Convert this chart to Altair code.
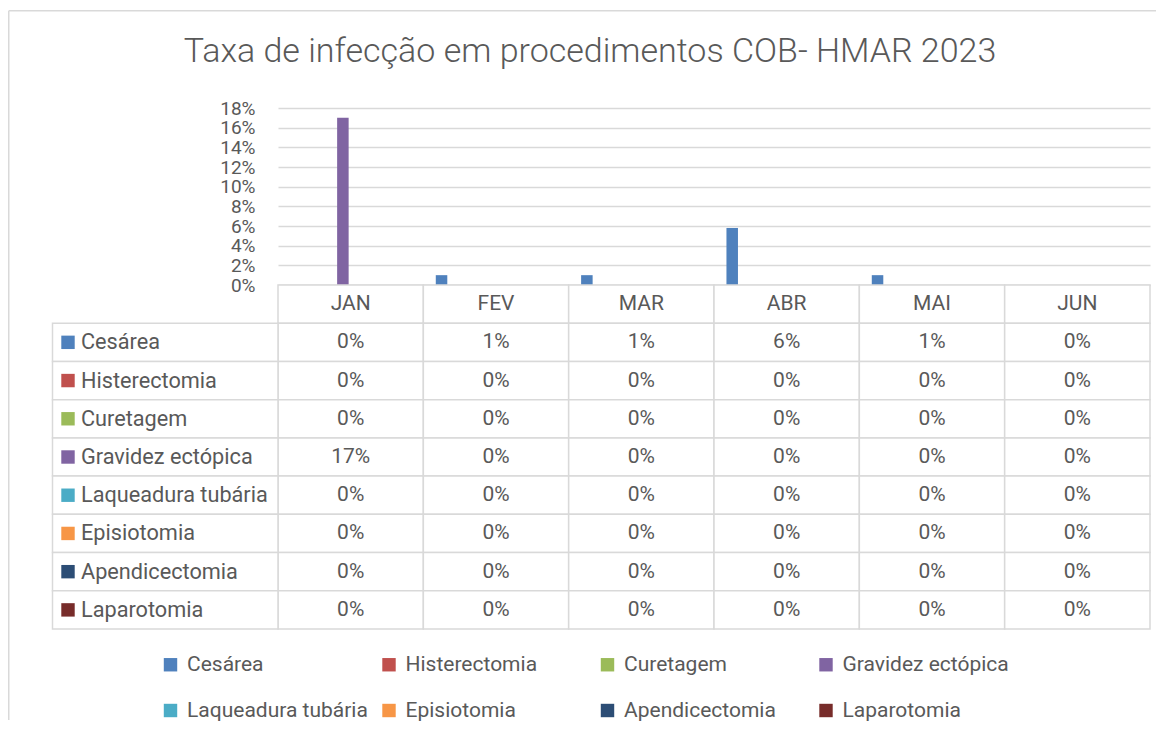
import altair as alt
import pandas as pd

title_text = "Taxa de infecção em procedimentos COB- HMAR 2023"
months = ["JAN", "FEV", "MAR", "ABR", "MAI", "JUN"]
series = ["Cesárea", "Histerectomia", "Curetagem", "Gravidez ectópica",
          "Laqueadura tubária", "Episiotomia", "Apendicectomia", "Laparotomia"]
colors = ["#4F81BD", "#C0504D", "#9BBB59", "#8064A2",
          "#4BACC6", "#F79646", "#2C4D75", "#772C2A"]

cesarea = [0.0, 0.01, 0.01, 0.058, 0.01, 0.0]
histerectomia = [0.0, 0.0, 0.0, 0.0, 0.0, 0.0]
curetagem = [0.0, 0.0, 0.0, 0.0, 0.0, 0.0]
gravidez_ectopica = [0.17, 0.0, 0.0, 0.0, 0.0, 0.0]
laqueadura_tubaria = [0.0, 0.0, 0.0, 0.0, 0.0, 0.0]
episiotomia = [0.0, 0.0, 0.0, 0.0, 0.0, 0.0]
apendicectomia = [0.0, 0.0, 0.0, 0.0, 0.0, 0.0]
laparotomia = [0.0, 0.0, 0.0, 0.0, 0.0, 0.0]
y_ticks = [0.0, 0.02, 0.04, 0.06, 0.08, 0.10, 0.12, 0.14, 0.16, 0.18]

values = [cesarea, histerectomia, curetagem, gravidez_ectopica,
          laqueadura_tubaria, episiotomia, apendicectomia, laparotomia]

rows = []
for s, vals in zip(series, values):
    for m, v in zip(months, vals):
        rows.append({"series": s, "month": m, "value": v})
df = pd.DataFrame(rows)

HDR = "_hdr"
row_domain = [HDR] + series
cells_df = pd.DataFrame([{"series": r, "month": m} for r in row_domain for m in months])
hdr_df = pd.DataFrame({"series": [HDR] * len(months), "month": months})
labels_df = pd.DataFrame({"series": series})
one = pd.DataFrame({"k": [0]})

FONT = "Roboto"
TXT = "#595959"
GRID = "#D9D9D9"
W = 872
H_BAR = 177
H_TAB = 344

color_scale = alt.Scale(domain=series, range=colors)

bars = alt.Chart(df).mark_bar().encode(
    x=alt.X("month:N", sort=months,
            scale=alt.Scale(domain=months, paddingInner=0, paddingOuter=0),
            axis=alt.Axis(labels=False, ticks=False, title=None, domain=True,
                          domainColor=GRID, domainWidth=1.5, grid=False)),
    xOffset=alt.XOffset("series:N",
                        scale=alt.Scale(domain=series, paddingInner=0.26, paddingOuter=0.8)),
    y=alt.Y("value:Q", scale=alt.Scale(domain=[0, 0.18], nice=False),
            axis=alt.Axis(format=".0%", values=y_ticks, title=None, ticks=False,
                          domain=False, grid=True, gridColor=GRID, gridWidth=1.5,
                          labelFont=FONT, labelFontSize=19, labelColor=TXT,
                          labelPadding=23, labelOverlap=False)),
    color=alt.Color("series:N", scale=color_scale,
                    legend=alt.Legend(title=None, orient="none", legendX=-118, legendY=546,
                                      columns=4, direction="horizontal",
                                      symbolType="square", symbolSize=180,
                                      symbolStrokeWidth=0, labelFont=FONT,
                                      labelFontSize=21, labelColor=TXT, labelLimit=400,
                                      labelOffset=6, columnPadding=10.5, rowPadding=24,
                                      gridAlign="all")),
)

frame_top = alt.Chart(one).mark_rule(color=GRID, strokeWidth=1.5).encode(
    x=alt.value(-269.25), x2=alt.value(878), y=alt.value(-97.25))
frame_left = alt.Chart(one).mark_rule(color=GRID, strokeWidth=1.5).encode(
    x=alt.value(-269.25), y=alt.value(-97.25), y2=alt.value(612))

bar_chart = alt.layer(frame_top, frame_left, bars).properties(width=W, height=H_BAR)

xcell = alt.X("month:N", scale=alt.Scale(domain=months, paddingInner=0, paddingOuter=0), axis=None)
ycell = alt.Y("series:N", scale=alt.Scale(domain=row_domain, paddingInner=0, paddingOuter=0), axis=None)

cells = alt.Chart(cells_df).mark_rect(fill="white", stroke=GRID, strokeWidth=1.5).encode(
    x=xcell, y=ycell)
label_cells = alt.Chart(labels_df).mark_rect(fill="white", stroke=GRID, strokeWidth=1.5).encode(
    x=alt.value(-225.5), x2=alt.value(0), y=ycell)
hdr_text = alt.Chart(hdr_df).mark_text(font=FONT, fontSize=21, color=TXT, baseline="middle").encode(
    x=xcell, y=ycell, text="month:N")
val_text = alt.Chart(df).mark_text(font=FONT, fontSize=21, color=TXT, baseline="middle").encode(
    x=xcell, y=ycell, text=alt.Text("value:Q", format=".0%"))
swatches = alt.Chart(labels_df).mark_square(size=180, opacity=1).encode(
    x=alt.value(-210), y=ycell, color=alt.Color("series:N", scale=color_scale, legend=None))
row_labels = alt.Chart(labels_df).mark_text(font=FONT, fontSize=21.7, color=TXT, align="left",
                                            baseline="middle").encode(
    x=alt.value(-197), y=ycell, text="series:N")

table_chart = alt.layer(cells, label_cells, hdr_text, val_text, swatches, row_labels).properties(
    width=W, height=H_TAB)

chart = alt.vconcat(
    bar_chart, table_chart, spacing=0, bounds="flush",
    padding={"left": 0, "top": 2, "right": 0, "bottom": 0},
    title=alt.TitleParams(title_text, font=FONT, fontSize=34, fontWeight=300, color=TXT,
                          anchor="middle", frame="group", baseline="alphabetic",
                          offset=-86, dx=-124),
).configure_view(strokeWidth=0)

chart.save("out.html", embed_options={"renderer": "svg", "actions": False})
